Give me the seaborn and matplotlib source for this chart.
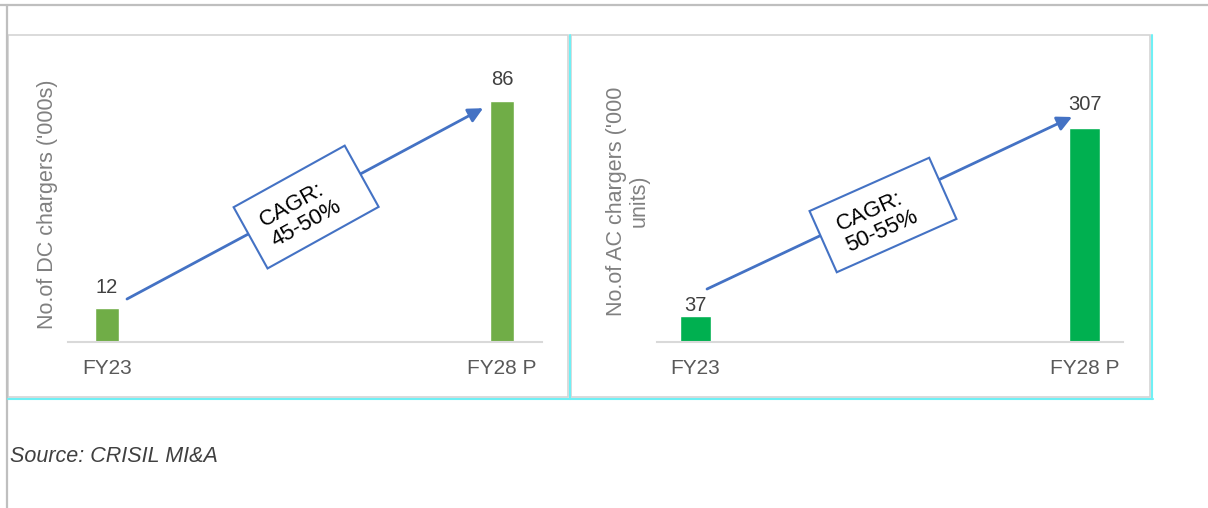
import matplotlib
matplotlib.use('Agg')

import matplotlib.pyplot as plt
import seaborn as sns
import pandas as pd
from matplotlib.patches import Rectangle
from matplotlib.lines import Line2D
from matplotlib.transforms import IdentityTransform
import numpy as np

# data
years = ["FY23", "FY28 P"]
dc_chargers = [12, 86]
ac_chargers = [37, 307]
dc_cagr = "CAGR:\n45-50%"
ac_cagr = "CAGR:\n50-55%"
source_note = "Source: CRISIL MI&A"

W, H = 1208, 508

sns.set_style("white")
plt.rcParams['font.family'] = ['Liberation Sans', 'DejaVu Sans']

fig = plt.figure(figsize=(W / 100, H / 100), dpi=100)


def fx(x):
    return x / W


def fy(y):
    return 1 - y / H


def px_axes(left, top, right, bottom):
    return fig.add_axes([fx(left), fy(bottom), (right - left) / W, (bottom - top) / H])


def hline(x0, x1, y, color, lw):
    fig.add_artist(Line2D([fx(x0), fx(x1)], [fy(y), fy(y)], color=color, lw=lw))


def vline(x, y0, y1, color, lw):
    fig.add_artist(Line2D([fx(x), fx(x)], [fy(y0), fy(y1)], color=color, lw=lw))


# frames around the panels
grey = "#d4d4d4"
cyan = "#6ff0f5"
hline(0, W, 5, "#bfbfbf", 1.6)
vline(7, 5, H, "#bfbfbf", 1.6)
for left, right in [(8, 568), (571, 1150)]:
    fig.add_artist(Rectangle((fx(left), fy(397)), (right - left) / W, (397 - 35) / H,
                             fill=False, edgecolor=grey, lw=1.2))
vline(570, 35, 399, cyan, 1.5)
vline(1152, 35, 399, cyan, 1.5)
hline(8, 1153, 398.5, cyan, 1.5)


def draw_panel(ax, values, color, width, ylabel, cagr, xlim, ylim,
               start, end, box_xy, box_size, angle, label_xy, label_gap):
    df = pd.DataFrame({"year": years, "value": values})
    sns.barplot(data=df, x="year", y="value", color=color, width=width,
                saturation=1, ax=ax)
    ax.set_xlim(*xlim)
    ax.set_ylim(*ylim)
    for i, v in enumerate(values):
        ax.annotate(str(v), (i, v), xytext=(0, label_gap[i]), textcoords="offset pixels",
                    ha="center", va="bottom", fontsize=14.5, color="#404040")
    sns.despine(ax=ax, left=True)
    ax.spines["bottom"].set_color("#d9d9d9")
    ax.spines["bottom"].set_linewidth(1.5)
    ax.set_yticks([])
    ax.set_xlabel("")
    ax.tick_params(axis="x", length=0, pad=12, labelsize=15, labelcolor="#595959")
    ax.set_ylabel(ylabel, fontsize=15.5, color="#808080", linespacing=1.1)
    ax.yaxis.set_label_coords(*label_xy)
    ax.annotate("", xy=end, xytext=start,
                arrowprops=dict(arrowstyle="-|>", color="#4472C4", lw=2,
                                mutation_scale=22, shrinkA=0, shrinkB=0))
    # rotated CAGR box, placed through the axes' data transform
    fig.canvas.draw()
    cx, cy = ax.transData.transform(box_xy)
    bw, bh = box_size
    ax.add_artist(Rectangle((cx - bw / 2, cy - bh / 2), bw, bh, angle=angle,
                            rotation_point="center", transform=IdentityTransform(),
                            facecolor="white", edgecolor="#4472C4", lw=1.5,
                            zorder=5, clip_on=False))
    a = np.radians(angle)
    tx = cx - 8 * np.cos(a) + 3 * np.sin(a)
    ty = cy - 8 * np.sin(a) - 3 * np.cos(a)
    ax.text(tx, ty, cagr, transform=IdentityTransform(), rotation=angle,
            rotation_mode="anchor", ha="center", va="center",
            multialignment="left", fontsize=16, color="black",
            linespacing=1.1, zorder=6)


ax1 = px_axes(68, 62, 542, 342)
draw_panel(ax1, dc_chargers, "#70AD47", 0.062, "No.of DC chargers ('000s)", dc_cagr,
           (-0.0987, 1.101), (0, 100), (0.0506, 15.35), (0.952, 83.5),
           (0.504, 48.2), (127, 70), 29, (-0.021, 0.493), (11, 12))

ax2 = px_axes(657, 62, 1123, 342)
draw_panel(ax2, ac_chargers, "#00B050", 0.08, "No.of AC chargers ('000\nunits)", ac_cagr,
           (-0.099, 1.099), (0, 401.7), (0.0296, 76), (0.968, 322.8),
           (0.482, 182.2), (131, 67), 24, (-0.015, 0.504), (1, 14))

fig.text(fx(10), fy(456), source_note, fontsize=15.5, style="italic",
         color="#404040", va="center", ha="left")

plt.savefig("out.png", dpi=100)
plt.close()
